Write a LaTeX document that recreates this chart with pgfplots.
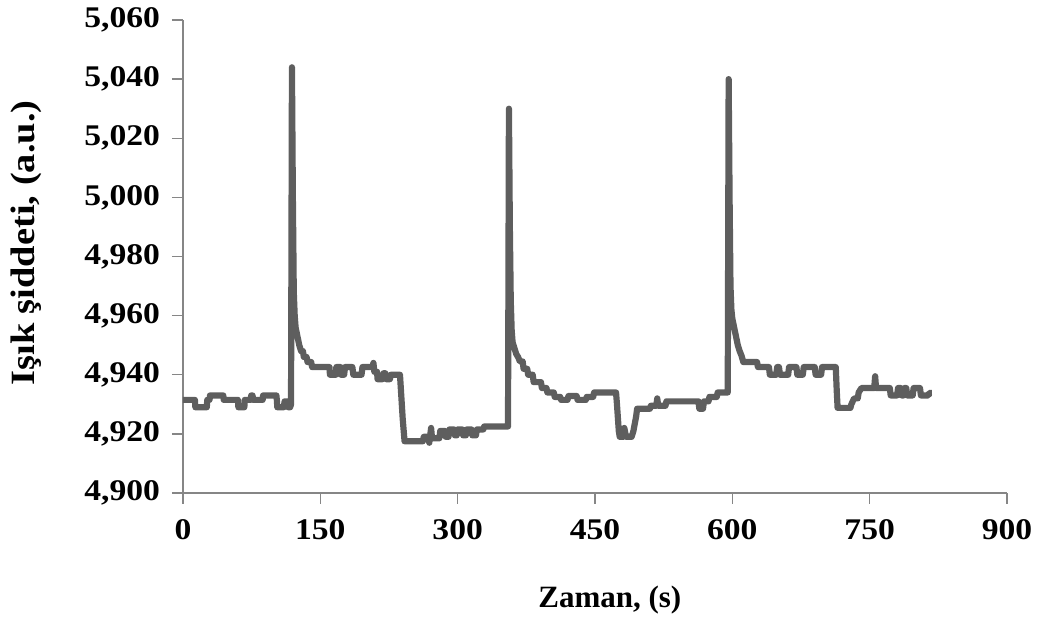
\documentclass[border=0pt]{standalone}
\usepackage{fontspec}
\setmainfont{Liberation Serif}
\newfontfamily\tickfont{Liberation Serif}[FakeStretch=1.12]
\newfontfamily\ylabfont{Liberation Serif}[FakeStretch=1.13]
\usepackage{pgfplots}
\pgfplotsset{compat=1.18}
\definecolor{trace}{HTML}{5E5E5E}
\definecolor{axisgray}{HTML}{868686}

\begin{document}
\begin{tikzpicture}
\begin{axis}[
  scale only axis,
  width=412pt, height=236.5pt,
  xmin=0, xmax=900, ymin=4900, ymax=5060,
  xtick={0,150,...,900},
  ytick={4900,4920,...,5060},
  axis x line*=bottom, axis y line*=left,
  axis line style={axisgray, line width=0.7pt, -},
  tick style={axisgray, line width=0.7pt},
  tick align=outside, major tick length=5.5pt,
  /pgf/number format/.cd, assume math mode=true, fixed, precision=0, 1000 sep={,},
  /pgfplots/.cd,
  ticklabel style={font=\tickfont\fontsize{15}{17}\selectfont\bfseries, text=black},
  yticklabel style={xshift=-2.5pt},
  xticklabel style={yshift=-4pt},
  xlabel={Zaman, (s)},
  ylabel={Işık şiddeti, (a.u.)},
  xlabel style={at={(rel axis cs:0.518,-0.2262)}, anchor=center,
    font=\fontsize{15.5}{18}\selectfont\bfseries, text=black},
  ylabel style={at={(rel axis cs:-0.1905,0.5285)}, anchor=center,
    font=\ylabfont\fontsize{17}{20}\selectfont\bfseries, text=black},
  clip=false,
]
\addplot[trace, line width=3.1pt, line join=round] coordinates {
(0,4931.5) (13,4931.5) (13.5,4929) (26,4929) (26.5,4931.5) (29,4931.5) (29.5,4933) (44,4933)
(44.5,4931.5) (60,4931.5) (60.5,4929) (67,4929) (67.5,4931.5) (74,4931.5) (74.5,4933) (76,4933)
(76.5,4931.5) (87,4931.5) (87.5,4933) (102,4933) (102.5,4931.5) (103,4929) (110,4929) (111,4931)
(114,4931) (115,4929) (117,4929) (118,4930)
(119,5044) (120,5000) (121,4968) (122,4960) (123,4956) (125,4953) (127,4950) (129,4948) (131,4948)
(132,4946) (135,4946) (136,4944.3) (140,4944.3) (141,4942.6) (160,4942.6) (160.5,4940) (167,4940)
(167.5,4942.6) (172,4942.6) (172.5,4940) (176,4940) (177,4942.6) (185,4942.6) (186,4940) (195,4940)
(196,4942.6) (207,4942.6) (208,4944) (209,4941) (212,4941) (212.5,4938.5) (218,4938.5) (219,4940.5)
(221,4940.5) (222,4938.5) (226,4938.5) (227,4940) (237,4940)
(238,4935) (240,4925) (242,4917.5) (262,4917.5) (263,4919) (268,4919) (269,4917) (271,4922)
(272,4918.5) (280,4918.5) (281,4921) (286,4921) (287,4919) (290,4919) (291,4921.5) (296,4921.5)
(297,4919.5) (299,4919.5) (300,4921.5) (305,4921.5) (306,4919.5) (309,4919.5) (310,4921.5)
(315,4921.5) (316,4919.5) (320,4919.5) (321,4921.5) (328,4921.5) (329,4922.5) (355,4922.5)
(356,5030) (357,4990) (358,4965) (359,4955) (360,4951) (362,4949) (364,4947) (366,4946)
(368,4944.5) (371,4944.5) (372,4942) (376,4942) (377,4940) (382,4940) (383,4937.5) (391,4937.5)
(392,4935.5) (397,4935.5) (398,4934) (405,4934) (406,4932.5) (412,4932.5) (413,4931.5) (420,4931.5)
(421,4932.8) (430,4932.8) (431,4931.5) (440,4931.5) (441,4932.5) (448,4932.5) (449,4934) (473,4934)
(474,4930) (476,4921) (477,4919) (481,4919) (482,4922) (484,4919) (490,4919) (492,4921)
(495,4926) (496,4928.5) (510,4928.5) (511,4929.5) (517,4929.5) (518,4932) (519,4929.5) (527,4929.5)
(528,4931) (563,4931) (564,4928.5) (568,4928.5) (569,4931) (574,4931) (575,4932.5) (583,4932.5)
(584,4934) (595,4934)
(596,5040) (597,5000) (598,4970) (599,4962) (600,4959) (602,4956) (604,4953) (606,4950)
(608,4948) (610,4946.5) (612,4944.3) (627,4944.3) (628,4942.6) (640,4942.6) (641,4940) (648,4940)
(649,4942.6) (651,4942.6) (652,4940) (661,4940) (662,4942.6) (670,4942.6) (671,4940) (677,4940)
(678,4942.6) (690,4942.6) (691,4940) (697,4940) (698,4942.6) (713,4942.6)
(714,4935) (715,4928.8) (729,4928.8) (730,4930) (733,4932) (737,4932) (738,4934) (741,4935.5)
(755,4935.5) (756,4939.5) (757,4935.5) (772,4935.5) (773,4933) (780,4933) (781,4935.5) (784,4935.5)
(785,4933) (787,4933) (788,4935.5) (790,4935.5) (791,4933) (797,4933) (798,4935.5) (805,4935.5)
(806,4933) (814,4933) (815,4933.8) (818,4933.8)
};
\coordinate (o) at (rel axis cs:0,0);
\end{axis}
\pgfresetboundingbox
\useasboundingbox (o) ++(-91.5pt,-63.5pt) rectangle ++(522pt,310pt);
\end{tikzpicture}
\end{document}
